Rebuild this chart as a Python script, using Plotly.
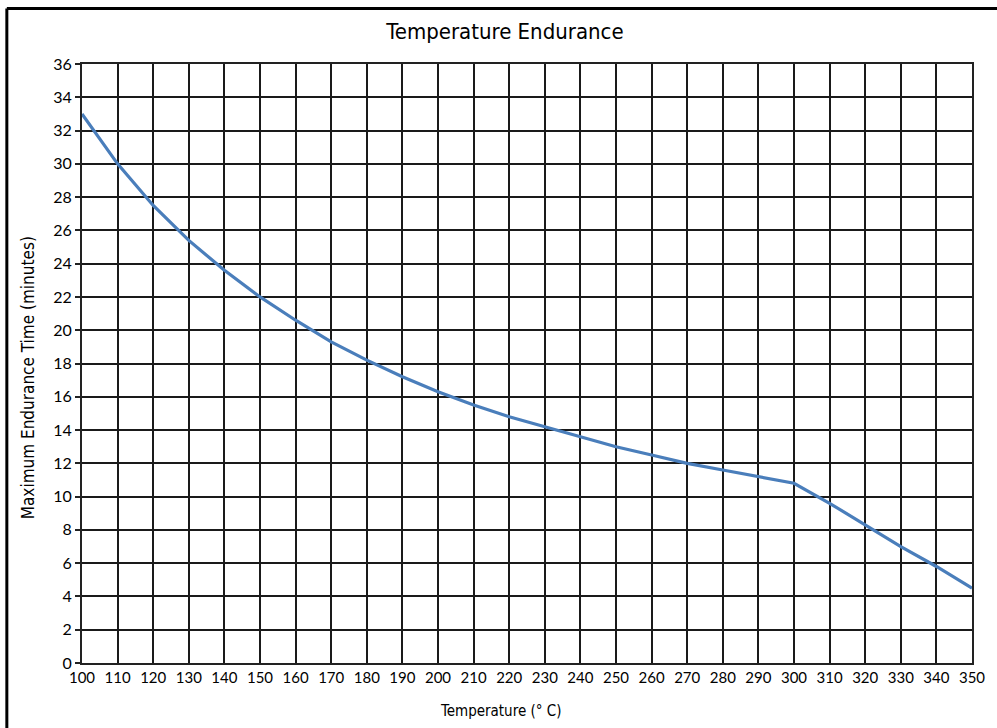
import plotly.graph_objects as go

temperatures = [100, 110, 120, 130, 140, 150, 160, 170, 180, 190, 200, 210, 220,
                230, 240, 250, 260, 270, 280, 290, 300, 310, 320, 330, 340, 350]
endurance_minutes = [33.0, 30.0, 27.5, 25.4, 23.6, 22.0, 20.6, 19.3, 18.2, 17.2, 16.3, 15.5, 14.8,
                     14.2, 13.6, 13.0, 12.5, 12.0, 11.6, 11.2, 10.8, 9.6, 8.3, 7.0, 5.8, 4.5]
y_ticks = list(range(0, 37, 2))
x_ticks = list(range(100, 351, 10))

title_text = "Temperature Endurance"
x_title = "Temperature (° C)"
y_title = "Maximum Endurance Time (minutes)"

fig = go.Figure()
fig.add_trace(go.Scatter(
    x=temperatures, y=endurance_minutes, mode="lines",
    line=dict(color="#4a7ebb", width=3.2),
    showlegend=False, hoverinfo="x+y"))

W, H = 997, 728
L, R, T, B = 82, 21, 64, 65
pw, ph = W - L - R, H - T - B

def px(x):
    return (x - L) / pw

def py(y):
    return (H - B - y) / ph

narrow = "'DejaVu Sans Condensed', 'Liberation Sans Narrow', sans-serif"
tickfam = "Lato, 'Open Sans', sans-serif"

fig.update_layout(
    width=W, height=H,
    margin=dict(l=L, r=R, t=T, b=B),
    paper_bgcolor="white", plot_bgcolor="white",
    font=dict(family=tickfam, size=15, color="black"),
    title=dict(text=title_text, x=505 / W, xref="container", xanchor="center",
               y=1 - 31 / H, yref="container", yanchor="middle",
               font=dict(family=narrow, size=22, color="black")),
    xaxis=dict(range=[100, 350], tickvals=x_ticks, ticktext=[str(v) for v in x_ticks],
               showgrid=True, gridcolor="#1a1a1a", gridwidth=1.5,
               showline=True, linecolor="#222", linewidth=2, mirror=True,
               ticks="", zeroline=False, tickfont=dict(family=tickfam, size=15)),
    yaxis=dict(range=[0, 36], tickvals=y_ticks, ticktext=[str(v) for v in y_ticks],
               showgrid=True, gridcolor="#1a1a1a", gridwidth=1.5,
               showline=True, linecolor="#222", linewidth=2, mirror=True,
               ticks="outside", ticklen=5, tickcolor="#222", tickwidth=1.5,
               zeroline=False, tickfont=dict(family=tickfam, size=16)),
    annotations=[
        dict(text=x_title, xref="paper", yref="paper", x=px(502), y=py(711),
             xanchor="center", yanchor="middle", showarrow=False,
             font=dict(family=narrow, size=15, color="black")),
        dict(text=y_title, xref="paper", yref="paper", x=px(28), y=py(378),
             xanchor="center", yanchor="middle", showarrow=False, textangle=-90,
             font=dict(family=narrow, size=17, color="black")),
    ],
    shapes=[
        dict(type="line", xref="paper", yref="paper", x0=px(6.5), x1=px(W + 5), y0=py(8.5), y1=py(8.5),
             line=dict(color="black", width=3)),
        dict(type="line", xref="paper", yref="paper", x0=px(6.5), x1=px(6.5), y0=py(8.5), y1=py(H + 5),
             line=dict(color="black", width=3)),
    ],
)

fig.write_html("out.html", config={"displayModeBar": False},
               post_script="document.body.style.margin='0';document.body.style.overflow='hidden';")
